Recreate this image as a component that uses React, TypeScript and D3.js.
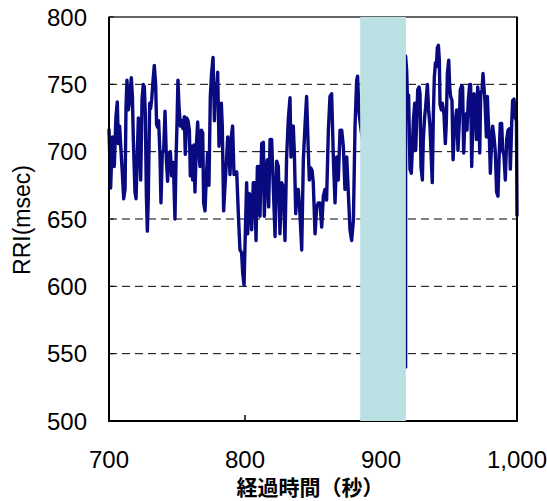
import React, { useEffect, useRef } from 'react'
import * as d3 from 'd3'

// RRI trace before the shaded interval (time in sec, RRI in msec)
const preTime = [
  700, 701.2, 702.5, 703.9, 705.1, 706.1, 706.9, 707.8, 708.8, 709.8, 710.8, 711.8, 712.5, 713.2, 714.2, 715.2,
  716.4, 717.2, 717.9, 719.1, 719.9, 720.6, 721.6, 722.5, 723.3, 724.3, 725.2, 726, 726.7, 727.5, 728.2, 728.9,
  729.9, 730.6, 731.4, 732.4, 733.3, 734.3, 735, 735.8, 736.5, 737.5, 738.2, 739.2, 740.2, 741.2, 742.2, 743.1,
  744.1, 745.1, 746.1, 747.3, 748.5, 749.3, 750, 750.7, 751.5, 752.5, 753.4, 754.4, 755.4, 756.1, 757.1, 758.1,
  759.1, 759.8, 760.8, 761.5, 762.5, 763.2, 764.2, 765.2, 766.2, 766.9, 767.9, 768.9, 769.6, 770.6, 771.6, 772.5,
  773.5, 774.5, 775.5, 776.5, 777.5, 778.2, 779.2, 779.9, 780.9, 781.6, 782.6, 783.3, 784.3, 785.3, 786.3, 787.3,
  788.2, 789, 789.9, 790.9, 791.9, 793.9, 795.1, 796.3, 797.5, 798.3, 799.3, 800, 801.2, 802, 803, 804.2,
  804.9, 806.1, 807.1, 808.1, 809.1, 810.1, 811, 812.3, 813.5, 814.2, 815.2, 816.4, 817.4, 818.4, 819.6, 820.8,
  822.1, 823.3, 824.5, 825.7, 826.9, 828.2, 829.4, 830.6, 831.9, 833.1, 833.8, 834.8, 835.5, 836.3, 837.3, 838,
  839.2, 840.4, 841.7, 842.9, 844.1, 845.3, 846.6, 847.3, 848.3, 849.3, 850.2, 851.5, 852.7, 853.9, 855.1, 856.4,
  857.6, 858.8, 860, 861.3, 862.5, 863.7, 865, 866.2, 867.4, 868.6, 869.9, 871.1, 872.3, 873.5, 874.8, 876,
  877.2, 878.4, 879.7, 880.9, 882.1, 882.8, 883.8, 885.5,
]
const preRri = [
  717, 673, 711, 689, 726, 737, 706, 719, 701, 684, 665, 672, 733, 753, 731, 738,
  755, 741, 709, 670, 665, 692, 725, 709, 679, 739, 750, 748, 728, 667, 641, 665,
  736, 732, 739, 753, 764, 750, 720, 718, 723, 697, 662, 699, 701, 730, 694, 678,
  699, 700, 682, 692, 650, 694, 721, 753, 733, 719, 723, 717, 726, 698, 725, 723,
  716, 682, 704, 679, 705, 670, 704, 722, 699, 689, 716, 714, 662, 656, 682, 699,
  675, 741, 759, 770, 723, 750, 745, 759, 704, 726, 736, 719, 656, 675, 692, 711,
  701, 683, 711, 719, 683, 685, 654, 627, 625, 610, 601, 630, 677, 639, 669, 667,
  642, 677, 677, 634, 689, 689, 652, 706, 707, 652, 681, 694, 659, 709, 709, 674,
  637, 693, 689, 639, 677, 674, 634, 696, 725, 740, 696, 716, 719, 699, 654, 672,
  672, 654, 627, 694, 719, 741, 699, 679, 688, 686, 677, 639, 659, 662, 662, 644,
  667, 672, 664, 716, 741, 743, 694, 662, 696, 679, 716, 716, 704, 672, 696, 669,
  642, 634, 649, 719, 753, 756, 729, 715,
]

// RRI trace after the shaded interval (first value sits under the band edge)
const postTime = [
  918.1, 918.1, 918.9, 919.6, 920.3, 921.3, 922.3, 923, 923.8, 924.8, 925.5, 926.2, 927, 928, 928.7, 929.4,
  930.4, 931.1, 932.1, 932.8, 934.1, 935, 936, 936.8, 937.7, 938.5, 939.2, 940, 940.7, 941.4, 942.2, 942.9,
  943.4, 944.4, 945.1, 946.3, 947.3, 948, 948.8, 949.8, 950.5, 951.2, 952.2, 953, 953.7, 954.7, 955.6, 956.6,
  957.6, 958.3, 959.3, 960, 960.8, 961.8, 962.5, 963.2, 964.2, 965.2, 965.9, 966.7, 967.4, 968.4, 969.4, 970.1,
  971.1, 971.8, 972.6, 973.3, 974.3, 975, 975.7, 976.5, 977.5, 978.2, 978.9, 979.7, 980.4, 981.4, 982.1, 983.1,
  984.1, 985, 986, 986.8, 987.7, 988.7, 989.5, 990.4, 991.4, 992.4, 993.4, 994.4, 995.1, 996.1, 996.8, 997.8,
  998.8, 999.6, 1000,
]
const postRri = [
  540, 771, 760, 733, 742, 687, 684, 701, 723, 736, 701, 721, 746, 748, 743, 689,
  679, 709, 726, 733, 750, 731, 719, 699, 677, 728, 755, 766, 763, 777, 779, 768,
  735, 731, 736, 728, 706, 721, 758, 768, 748, 741, 738, 694, 711, 723, 731, 701,
  723, 746, 749, 748, 699, 726, 728, 716, 738, 750, 750, 689, 719, 743, 733, 709,
  748, 741, 699, 743, 746, 758, 748, 736, 711, 741, 723, 709, 684, 709, 719, 711,
  699, 670, 667, 694, 721, 721, 701, 697, 679, 709, 716, 717, 687, 721, 738, 739,
  725, 723, 652,
]

const band = [884.7, 918.3]
const xTicks = [700, 800, 900, 1000]
const yTicks = [500, 550, 600, 650, 700, 750, 800]
const gridValues = [550, 600, 650, 700, 750]

const App = () => {
  const ref = useRef<SVGSVGElement>(null)

  useEffect(() => {
    const left = 109, right = 517, top = 17, bottom = 421
    const x = d3.scaleLinear().domain([700, 1000]).range([left, right])
    const y = d3.scaleLinear().domain([500, 800]).range([bottom, top])

    const svg = d3.select(ref.current)
    svg.selectAll('*').remove()

    // dashed gridlines
    svg.append('g')
      .selectAll('line')
      .data(gridValues)
      .enter()
      .append('line')
      .attr('x1', left).attr('x2', right)
      .attr('y1', d => y(d)).attr('y2', d => y(d))
      .attr('stroke', '#000')
      .attr('stroke-width', 1)
      .attr('stroke-dasharray', '8,5')

    // inward ticks
    svg.append('g')
      .selectAll('line')
      .data(yTicks)
      .enter()
      .append('line')
      .attr('x1', left).attr('x2', left + 5)
      .attr('y1', d => y(d)).attr('y2', d => y(d))
      .attr('stroke', '#000')
    svg.append('g')
      .selectAll('line')
      .data(xTicks)
      .enter()
      .append('line')
      .attr('x1', d => x(d)).attr('x2', d => x(d))
      .attr('y1', bottom).attr('y2', bottom - 6)
      .attr('stroke', '#000')
      .attr('stroke-width', 1.5)

    const pts: [number, number][] = preTime.map((t, i) => [t, preRri[i]] as [number, number])
      .concat(postTime.map((t, i) => [t, postRri[i]] as [number, number]))

    const line = d3.line<[number, number]>()
      .x(d => x(d[0]))
      .y(d => y(d[1]))

    svg.append('path')
      .datum(pts)
      .attr('d', line)
      .attr('fill', 'none')
      .attr('stroke', '#0a0a80')
      .attr('stroke-width', 3.4)
      .attr('stroke-linejoin', 'round')

    // frame
    svg.append('rect')
      .attr('x', left).attr('y', top)
      .attr('width', right - left).attr('height', bottom - top)
      .attr('fill', 'none')
      .attr('stroke', '#000')
      .attr('stroke-width', 1.2)
    svg.append('path')
      .attr('d', `M${left},${top}V${bottom}H${right}V${top}`)
      .attr('fill', 'none')
      .attr('stroke', '#000')
      .attr('stroke-width', 2)

    // shaded interval
    svg.append('rect')
      .attr('x', x(band[0]))
      .attr('y', top)
      .attr('width', x(band[1]) - x(band[0]))
      .attr('height', bottom - top)
      .attr('fill', '#bbe0e3')

    const font = '"Liberation Sans", Arial, sans-serif'

    svg.append('g')
      .selectAll('text')
      .data(yTicks)
      .enter()
      .append('text')
      .attr('x', 87)
      .attr('y', d => y(d))
      .attr('dy', '0.36em')
      .attr('text-anchor', 'end')
      .attr('font-family', font)
      .attr('font-size', 24)
      .text(d => d)

    svg.append('g')
      .selectAll('text')
      .data(xTicks)
      .enter()
      .append('text')
      .attr('x', d => x(d))
      .attr('y', 468)
      .attr('text-anchor', 'middle')
      .attr('font-family', font)
      .attr('font-size', 24)
      .text(d => d3.format(',')(d))

    svg.append('text')
      .attr('transform', 'translate(22,220) rotate(-90)')
      .attr('dy', '0.36em')
      .attr('text-anchor', 'middle')
      .attr('font-family', font)
      .attr('font-size', 23)
      .text('RRI(msec)')

    svg.append('text')
      .attr('x', 310)
      .attr('y', 495)
      .attr('text-anchor', 'middle')
      .attr('font-family', '"Noto Sans CJK JP", sans-serif')
      .attr('font-weight', 'bold')
      .attr('font-size', 21)
      .text('経過時間（秒）')
  }, [])

  return (
    <svg ref={ref} width={547} height={501} style={{ position: 'absolute', left: 0, top: 0, background: '#fff' }} />
  )
}

export default App
